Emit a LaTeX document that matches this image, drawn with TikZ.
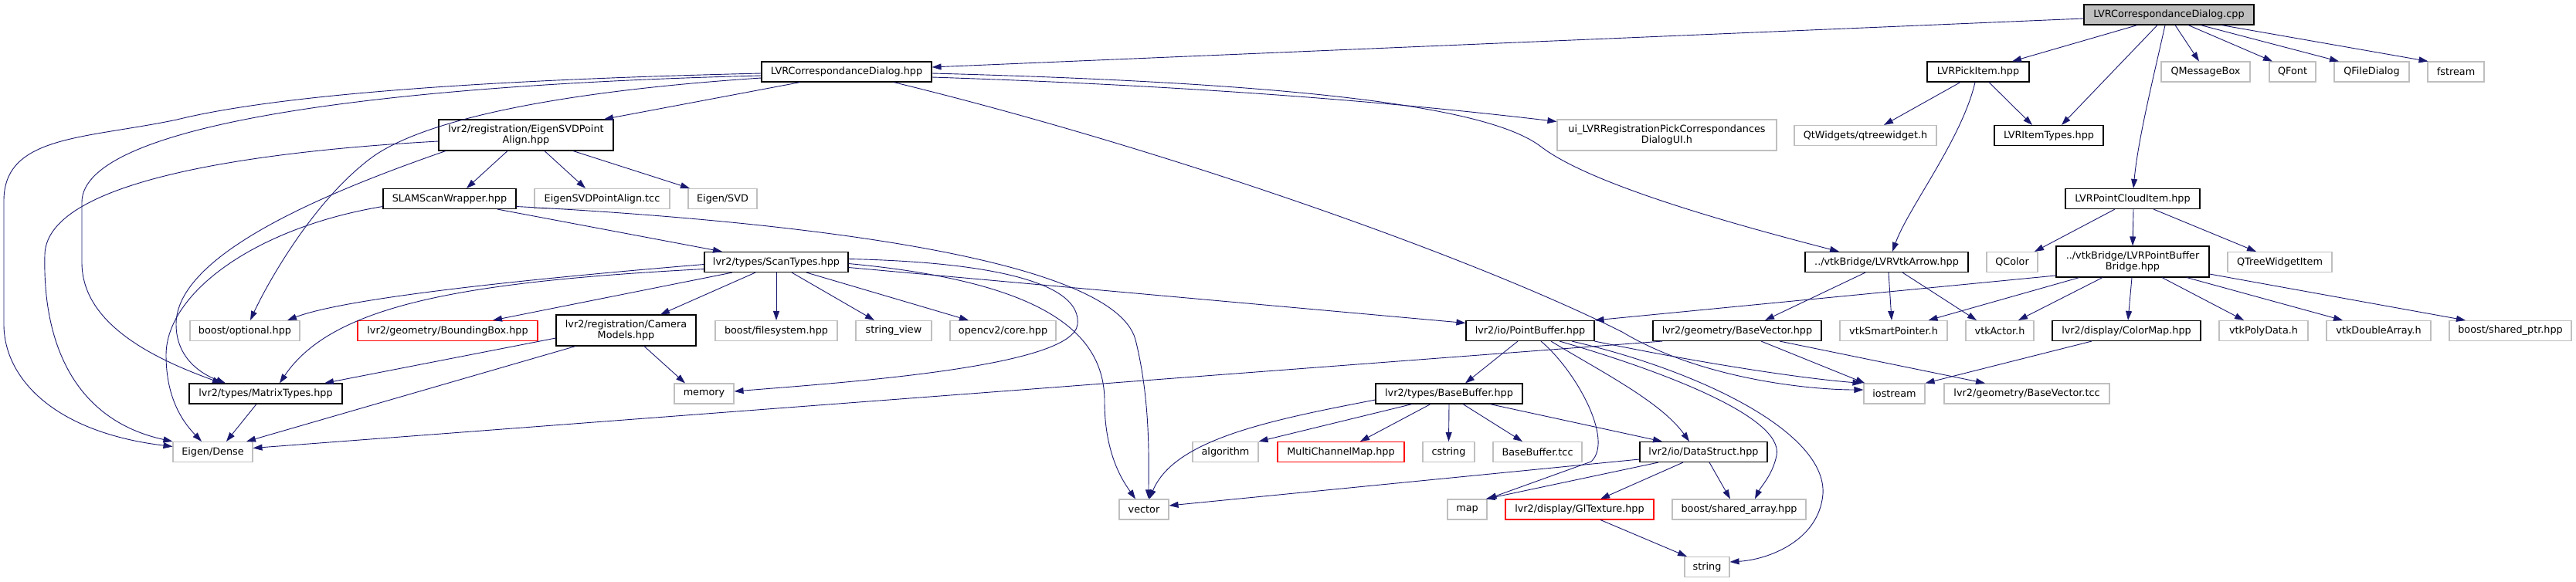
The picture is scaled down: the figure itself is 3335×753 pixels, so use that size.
\documentclass[tikz,border=0pt]{standalone}
\usepackage{fontspec}
\setmainfont{DejaVu Sans}
\usetikzlibrary{arrows.meta}
\definecolor{edgecol}{HTML}{191970}
\definecolor{graybd}{HTML}{BFBFBF}
\begin{document}
\begin{tikzpicture}[x=1pt,y=-1pt,
  nb/.style={draw=black, line width=1.1pt, fill=white, minimum height=26pt, inner sep=0pt, font=\fontsize{12.8}{14.5}\selectfont, align=center},
  ng/.style={nb, draw=graybd},
  nr/.style={nb, draw=red},
  two/.style={minimum height=40pt},
  e/.style={draw=edgecol, line width=0.9pt, -{Triangle[length=12pt,width=8pt]}}
]
\useasboundingbox (0,0) rectangle (3335,753);
% row 0
\node[nb, fill=graybd, minimum width=220pt] (cpp) at (2808,19) {LVRCorrespondanceDialog.cpp};
% row 1
\node[nb, minimum width=220pt] (dlg) at (1096,93) {LVRCorrespondanceDialog.hpp};
\node[nb, minimum width=132pt] (pick) at (2561,93) {LVRPickItem.hpp};
\node[ng, minimum width=115pt] (qmsg) at (2855.5,93) {QMessageBox};
\node[ng, minimum width=60pt] (qfont) at (2968,93) {QFont};
\node[ng, minimum width=97pt] (qfd) at (3070.5,93) {QFileDialog};
\node[ng, minimum width=73pt] (fstream) at (3179.5,93) {fstream};
% row 2
\node[nb, two, minimum width=226pt] (eig) at (681,175) {lvr2/registration/EigenSVDPoint\\Align.hpp};
\node[ng, two, minimum width=284pt] (ui) at (2158,175) {ui\_LVRRegistrationPickCorrespondances\\DialogUI.h};
\node[ng, minimum width=184pt] (qtw) at (2415,175.5) {QtWidgets/qtreewidget.h};
\node[nb, minimum width=141pt] (itemtypes) at (2652.5,175.5) {LVRItemTypes.hpp};
% row 3
\node[nb, minimum width=172pt] (slam) at (582,257.5) {SLAMScanWrapper.hpp};
\node[ng, minimum width=175pt] (tcc) at (779.5,257.5) {EigenSVDPointAlign.tcc};
\node[ng, minimum width=89pt] (svd) at (935.5,257.5) {Eigen/SVD};
\node[nb, minimum width=174pt] (pci) at (2761,257.5) {LVRPointCloudItem.hpp};
% row 4
\node[nb, minimum width=186pt] (scan) at (1005,339.5) {lvr2/types/ScanTypes.hpp};
\node[nb, minimum width=211pt] (arrow) at (2442.5,339.5) {../vtkBridge/LVRVtkArrow.hpp};
\node[ng, minimum width=66pt] (qcolor) at (2605,339.5) {QColor};
\node[nb, two, minimum width=198pt] (pbb) at (2761,339) {../vtkBridge/LVRPointBuffer\\Bridge.hpp};
\node[ng, minimum width=135pt] (qtwi) at (2951.5,339.5) {QTreeWidgetItem};
% row 5
\node[ng, minimum width=142pt] (bopt) at (317,428.5) {boost/optional.hpp};
\node[nr, minimum width=233pt] (bbox) at (579.5,428.5) {lvr2/geometry/BoundingBox.hpp};
\node[nb, two, minimum width=181pt] (cam) at (810.5,428) {lvr2/registration/Camera\\Models.hpp};
\node[ng, minimum width=158pt] (bfs) at (1005,428.5) {boost/filesystem.hpp};
\node[ng, minimum width=98pt] (sv) at (1157,428.5) {string\_view};
\node[ng, minimum width=137pt] (cv) at (1298.5,428.5) {opencv2/core.hpp};
\node[nb, minimum width=166pt] (pb) at (1981,428.5) {lvr2/io/PointBuffer.hpp};
\node[nb, minimum width=218pt] (bv) at (2249,428.5) {lvr2/geometry/BaseVector.hpp};
\node[ng, minimum width=139pt] (vsp) at (2451.5,428.5) {vtkSmartPointer.h};
\node[ng, minimum width=88pt] (vact) at (2589,428.5) {vtkActor.h};
\node[nb, minimum width=192pt] (cmap) at (2753,428.5) {lvr2/display/ColorMap.hpp};
\node[ng, minimum width=115pt] (vpd) at (2930.5,428.5) {vtkPolyData.h};
\node[ng, minimum width=135pt] (vda) at (3079.5,428.5) {vtkDoubleArray.h};
\node[ng, minimum width=158pt] (bsp) at (3250,428.5) {boost/shared\_ptr.hpp};
% row 6
\node[nb, minimum width=198pt] (mat) at (344,510) {lvr2/types/MatrixTypes.hpp};
\node[ng, minimum width=77pt] (mem) at (911.5,510) {memory};
\node[nb, minimum width=190pt] (bb) at (1876,510) {lvr2/types/BaseBuffer.hpp};
\node[ng, minimum width=79pt] (ios) at (2452.5,510) {iostream};
\node[ng, minimum width=214pt] (bvtcc) at (2624,510) {lvr2/geometry/BaseVector.tcc};
% row 7
\node[ng, minimum width=103pt] (dense) at (275.5,585.5) {Eigen/Dense};
\node[ng, minimum width=85pt] (algo) at (1586.5,585.5) {algorithm};
\node[nr, minimum width=164pt] (mcm) at (1736,585.5) {MultiChannelMap.hpp};
\node[ng, minimum width=67pt] (cstr) at (1875.5,585.5) {cstring};
\node[ng, minimum width=115pt] (bbtcc) at (1990.5,585.5) {BaseBuffer.tcc};
\node[nb, minimum width=165pt] (ds) at (2205.5,585.5) {lvr2/io/DataStruct.hpp};
% row 8
\node[ng, minimum width=64pt] (vec) at (1481,660) {vector};
\node[ng, minimum width=51pt] (map) at (1899.5,660) {map};
\node[nr, minimum width=192pt] (glt) at (2045,660) {lvr2/display/GlTexture.hpp};
\node[ng, minimum width=173pt] (bsa) at (2251.5,660) {boost/shared\_array.hpp};
% row 9
\node[ng, minimum width=58pt] (str) at (2210,734.5) {string};

% ---- edges from cpp
\draw[e] ([yshift=-5pt]cpp.west) -- ([yshift=6pt]dlg.east);
\draw[e] ([xshift=-41pt]cpp.south) -- ([xshift=44pt]pick.north);
\draw[e] ([xshift=-15pt]cpp.south) -- ([xshift=16.5pt]itemtypes.north);
\draw[e] ([xshift=-5pt]cpp.south) .. controls (2788,100) and (2768,180) .. ([xshift=1pt]pci.north);
\draw[e] ([xshift=8pt]cpp.south) -- ([xshift=-8.5pt]qmsg.north);
\draw[e] ([xshift=25pt]cpp.south) -- ([xshift=-26pt]qfont.north);
\draw[e] ([xshift=41pt]cpp.south) -- ([xshift=-42.5pt]qfd.north);
\draw[e] ([xshift=68pt]cpp.south) -- ([xshift=-36pt]fstream.north);
% ---- edges from dlg
\draw[e] ([yshift=-7pt]dlg.east) .. controls (1600,113) and (1850,138) .. ([yshift=-3pt]ui.north west);
\draw[e] ([yshift=-2pt]dlg.east) .. controls (1700,108) and (1930,140) .. (1995,190) .. controls (2060,240) and (2250,292) .. ([xshift=-61.5pt]arrow.north);
\draw[e] ([xshift=-60pt]dlg.south) -- ([xshift=101pt]eig.north);
\draw[e] ([yshift=-2pt]dlg.west) .. controls (600,104) and (350,125) .. (229,155) .. controls (110,180) and (5,175) .. (5,260) -- (5,420) .. controls (5,490) and (70,560) .. ([yshift=7pt]dense.west);
\draw[e] ([yshift=-5pt]dlg.west) .. controls (500,110) and (106,160) .. (106,262) -- (106,340) .. controls (106,420) and (200,465) .. ([xshift=-57pt]mat.north);
\draw[e] ([yshift=-8pt]dlg.west) .. controls (700,120) and (540,160) .. (480,205) .. controls (400,265) and (340,380) .. ([xshift=7pt]bopt.north);
\draw[e] ([xshift=61pt]dlg.south) .. controls (1500,190) and (1900,330) .. (2100,430) .. controls (2200,490) and (2340,505) .. ([yshift=5pt]ios.west);
% ---- eig
\draw[e] ([xshift=-24pt]eig.south) -- ([xshift=22pt]slam.north);
\draw[e] ([xshift=24pt]eig.south) -- ([xshift=-21.5pt]tcc.north);
\draw[e] ([xshift=61pt]eig.south) -- ([xshift=-42.5pt]svd.north);
\draw[e] ([yshift=-8pt]eig.west) .. controls (350,195) and (60,230) .. (58,330) .. controls (55,450) and (100,545) .. (dense.north west);
\draw[e] ([xshift=-104pt]eig.south) .. controls (420,250) and (228,330) .. (228,420) .. controls (228,465) and (262,485) .. ([xshift=-52pt]mat.north);
% ---- slam
\draw[e] ([yshift=-10pt]slam.west) .. controls (330,295) and (215,380) .. (215,460) .. controls (215,520) and (240,550) .. ([xshift=-14.5pt]dense.north);
\draw[e] ([xshift=62pt]slam.south) -- ([xshift=-70pt]scan.north);
\draw[e] ([yshift=-10pt]slam.east) .. controls (1000,285) and (1440,330) .. (1470,440) .. controls (1490,520) and (1487,600) .. ([xshift=6pt]vec.north);
% ---- scan
\draw[e] ([yshift=-3pt]scan.west) .. controls (700,360) and (450,385) .. ([xshift=55pt]bopt.north);
\draw[e] ([yshift=-9pt]scan.west) .. controls (600,365) and (430,395) .. ([xshift=18pt]mat.north);
\draw[e] ([xshift=-57pt]scan.south) -- ([xshift=58.5pt]bbox.north);
\draw[e] ([xshift=-27pt]scan.south) -- ([xshift=44.5pt]cam.north);
\draw[e] (scan.south) -- (bfs.north);
\draw[e] ([xshift=20pt]scan.south) -- ([xshift=-25pt]sv.north);
\draw[e] ([xshift=39pt]scan.south) -- ([xshift=-44.5pt]cv.north);
\draw[e] ([yshift=4pt]scan.east) .. controls (1300,340) and (1400,370) .. (1395,420) .. controls (1390,475) and (1100,495) .. ([yshift=3pt]mem.east);
\draw[e] ([yshift=-2pt]scan.east) .. controls (1350,365) and (1430,430) .. (1430,520) .. controls (1430,590) and (1455,625) .. ([xshift=-11pt]vec.north);
\draw[e] ([yshift=-7pt]scan.east) -- ([yshift=10pt]pb.west);
% ---- cam
\draw[e] ([yshift=-10pt]cam.west) -- ([xshift=76pt]mat.north);
\draw[e] ([xshift=-65.5pt]cam.south) -- ([xshift=43.5pt]dense.north);
\draw[e] ([xshift=23.5pt]cam.south) -- ([xshift=-24.5pt]mem.north);
% ---- mat
\draw[e] ([xshift=-12pt]mat.south) -- ([xshift=17.5pt]dense.north);
% ---- pick
\draw[e] ([xshift=-23pt]pick.south) -- ([xshift=24pt]qtw.north);
\draw[e] ([xshift=-4pt]pick.south) .. controls (2540,180) and (2470,270) .. ([xshift=7.5pt]arrow.north);
\draw[e] ([xshift=14pt]pick.south) -- ([xshift=-21.5pt]itemtypes.north);
% ---- pci
\draw[e] ([xshift=-23pt]pci.south) -- ([xshift=29pt]qcolor.north);
\draw[e] ([xshift=1pt]pci.south) -- (pbb.north);
\draw[e] ([xshift=27pt]pci.south) -- ([xshift=-30.5pt]qtwi.north);
% ---- arrow
\draw[e] ([xshift=-27.5pt]arrow.south) -- ([xshift=36pt]bv.north);
\draw[e] ([xshift=2.5pt]arrow.south) -- ([xshift=-2.5pt]vsp.north);
\draw[e] ([xshift=20.5pt]arrow.south) -- ([xshift=-30pt]vact.north);
% ---- pbb
\draw[e] ([yshift=-18pt]pbb.west) -- (pb.north east);
\draw[e] ([xshift=-69pt]pbb.south) -- ([xshift=45pt]vsp.north);
\draw[e] ([xshift=-39pt]pbb.south) -- ([xshift=24pt]vact.north);
\draw[e] ([xshift=-1pt]pbb.south) -- ([xshift=2pt]cmap.north);
\draw[e] ([xshift=38pt]pbb.south) -- ([xshift=-25.5pt]vpd.north);
\draw[e] ([xshift=70pt]pbb.south) -- ([xshift=-46.5pt]vda.north);
\draw[e] ([yshift=-16pt]pbb.east) -- ([xshift=-58pt]bsp.north);
% ---- bv
\draw[e] ([xshift=-97pt]bv.south) -- ([yshift=5pt]dense.east);
\draw[e] ([xshift=31pt]bv.south) -- ([xshift=2pt]ios.north west);
\draw[e] ([xshift=55pt]bv.south) -- ([xshift=-54pt]bvtcc.north);
% ---- cmap
\draw[e] ([xshift=-45pt]cmap.south) -- (ios.north east);
% ---- pb
\draw[e] ([xshift=-16pt]pb.south) -- ([xshift=21pt]bb.north);
\draw[e] ([xshift=14pt]pb.south) .. controls (2040,480) and (2090,570) .. (2060,598) -- (map.north east);
\draw[e] ([xshift=27pt]pb.south) .. controls (2070,480) and (2150,520) .. ([xshift=-18.5pt]ds.north);
\draw[e] ([xshift=38pt]pb.south) .. controls (2150,480) and (2310,540) .. (2300,590) .. controls (2295,615) and (2280,630) .. ([xshift=20.5pt]bsa.north);
\draw[e] ([xshift=54pt]pb.south) .. controls (2200,480) and (2365,560) .. (2360,640) .. controls (2355,700) and (2290,725) .. ([yshift=6.5pt]str.east);
\draw[e] (pb.south east) .. controls (2200,470) and (2330,490) .. ([xshift=-2pt]ios.north west);
% ---- bb
\draw[e] ([yshift=-8pt]bb.west) .. controls (1640,545) and (1520,570) .. ([xshift=7pt]vec.north);
\draw[e] ([xshift=-48pt]bb.south) -- (algo.north east);
\draw[e] ([xshift=-24pt]bb.south) -- ([xshift=25pt]mcm.north);
\draw[e] (bb.south) -- (cstr.north);
\draw[e] ([xshift=18pt]bb.south) -- ([xshift=-19.5pt]bbtcc.north);
\draw[e] ([xshift=53pt]bb.south) -- ([xshift=-53.5pt]ds.north);
% ---- ds
\draw[e] ([yshift=-9.5pt]ds.west) -- ([yshift=5pt]vec.east);
\draw[e] ([xshift=-58.5pt]ds.south) -- ([xshift=-2pt]map.north east);
\draw[e] ([xshift=-26.5pt]ds.south) -- ([xshift=27pt]glt.north);
\draw[e] ([xshift=7.5pt]ds.south) -- ([xshift=-11.5pt]bsa.north);
% ---- glt
\draw[e] ([xshift=27pt]glt.south) -- ([xshift=-26pt]str.north);
\end{tikzpicture}
\end{document}
